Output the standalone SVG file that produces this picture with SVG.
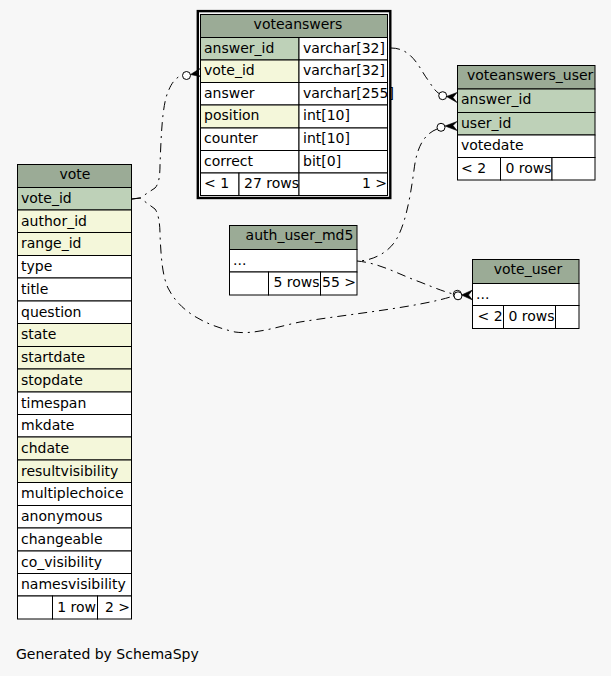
<svg xmlns="http://www.w3.org/2000/svg" width="611" height="676" viewBox="0 0 611 676">
<style>
.h{fill:#9bab96;stroke:#000;stroke-width:1}
.pk{fill:#bed1b8;stroke:#000;stroke-width:1}
.fk{fill:#f4f7da;stroke:#000;stroke-width:1}
.w{fill:#fff;stroke:#000;stroke-width:1}
text{font-family:"DejaVu Sans","Liberation Sans",sans-serif;font-size:14px;fill:#000}
.c{text-anchor:middle}
.e{text-anchor:end}
.edge{fill:none;stroke:#000;stroke-width:1;stroke-dasharray:9 5 2 5}
.ring{fill:#fff;stroke:#000;stroke-width:1}
.crow{fill:#000;stroke:#000;stroke-width:0.6}
</style>
<rect width="611" height="676" fill="#f7f7f7"/>

<g id="connectors">
<path class="edge" d="M132,199 L140,198 L155,188 C159,184 160,175 160,165 C161,140 162,105 168,92 C172,81 178,76 182.5,75.5"/>
<circle class="ring" cx="186.5" cy="75.5" r="4"/>
<polygon class="crow" points="190.5,74.5 200,68.5 196.5,72.5 200,76.5"/>

<path class="edge" d="M391,48 C413,48 420,70 428,80 C432,86 435,91 439,93.5"/>
<circle class="ring" cx="442.7" cy="95.7" r="4"/>
<polygon class="crow" points="446.5,96.5 457,92.5 453,97.5 457,102.5"/>

<path class="edge" d="M437,129 C425,134 417,145 414,170 C410,200 405,225 396,240 C388,253 372,261 357,261"/>
<circle class="ring" cx="441" cy="127.3" r="4"/>
<polygon class="crow" points="445,126 457,121.5 453,125.5 457,130.5"/>

<path class="edge" d="M357,261 C380,263 400,275 420,282 C435,288 445,292 453.3,294"/>
<path class="edge" d="M132,199 L140,198 L155,209 C158,213 160,222 160,235 C161,255 162,275 168,288 C180,312 205,325 235,332 C255,335 280,326 300,322 C350,314 420,307 453.5,296"/>
<circle class="ring" cx="457.3" cy="294.3" r="4"/>
<circle class="ring" cx="458" cy="295.8" r="4"/>
<polygon class="crow" points="461.5,295 472.5,290 468.5,295 472.5,300"/>
</g>

<g id="vote">
<rect class="h" x="17.5" y="164.5" width="114" height="23"/>
<text class="c" x="75" y="178.5">vote</text>
<rect class="pk" x="17.5" y="187.5" width="114" height="22.5"/><text x="21" y="203">vote_id</text>
<rect class="fk" x="17.5" y="210" width="114" height="22.5"/><text x="21" y="225.5">author_id</text>
<rect class="fk" x="17.5" y="232.5" width="114" height="23"/><text x="21" y="248">range_id</text>
<rect class="w" x="17.5" y="255.5" width="114" height="22.5"/><text x="21" y="271">type</text>
<rect class="w" x="17.5" y="278" width="114" height="23"/><text x="21" y="293.5">title</text>
<rect class="w" x="17.5" y="301" width="114" height="22.5"/><text x="21" y="316.5">question</text>
<rect class="fk" x="17.5" y="323.5" width="114" height="23"/><text x="21" y="339">state</text>
<rect class="fk" x="17.5" y="346.5" width="114" height="22.5"/><text x="21" y="362">startdate</text>
<rect class="fk" x="17.5" y="369" width="114" height="23"/><text x="21" y="384.5">stopdate</text>
<rect class="w" x="17.5" y="392" width="114" height="22.5"/><text x="21" y="407.5">timespan</text>
<rect class="w" x="17.5" y="414.5" width="114" height="22.5"/><text x="21" y="430">mkdate</text>
<rect class="fk" x="17.5" y="437" width="114" height="23"/><text x="21" y="452.5">chdate</text>
<rect class="fk" x="17.5" y="460" width="114" height="22.5"/><text x="21" y="475.5">resultvisibility</text>
<rect class="w" x="17.5" y="482.5" width="114" height="23"/><text x="21" y="498">multiplechoice</text>
<rect class="w" x="17.5" y="505.5" width="114" height="22.5"/><text x="21" y="521">anonymous</text>
<rect class="w" x="17.5" y="528" width="114" height="23"/><text x="21" y="543.5">changeable</text>
<rect class="w" x="17.5" y="551" width="114" height="22.5"/><text x="21" y="566.5">co_visibility</text>
<rect class="w" x="17.5" y="573.5" width="114" height="22.5"/><text x="21" y="589">namesvisibility</text>
<rect class="w" x="17.5" y="596" width="35" height="23"/>
<rect class="w" x="52.5" y="596" width="45" height="23"/><text class="e" x="96" y="611.5">1 row</text>
<rect class="w" x="97.5" y="596" width="34" height="23"/><text class="e" x="130" y="611.5">2 &gt;</text>
</g>

<g id="voteanswers">
<rect x="197.8" y="11.1" width="192.5" height="186.9" fill="none" stroke="#000" stroke-width="2.4"/>
<rect class="h" x="200.5" y="14.5" width="187" height="23"/>
<text class="c" x="298" y="29">voteanswers</text>
<rect class="pk" x="200.5" y="37.5" width="98.5" height="22.5"/><text x="204" y="52.5">answer_id</text>
<rect class="w" x="299" y="37.5" width="88.5" height="22.5"/><text x="303" y="52.5">varchar[32]</text>
<rect class="fk" x="200.5" y="60" width="98.5" height="22.5"/><text x="204" y="75">vote_id</text>
<rect class="w" x="299" y="60" width="88.5" height="22.5"/><text x="303" y="75">varchar[32]</text>
<rect class="w" x="200.5" y="82.5" width="98.5" height="22.5"/><text x="204" y="97.5">answer</text>
<rect class="w" x="299" y="82.5" width="88.5" height="22.5"/><text x="303" y="97.5">varchar[255]</text>
<rect class="fk" x="200.5" y="105" width="98.5" height="23"/><text x="204" y="120">position</text>
<rect class="w" x="299" y="105" width="88.5" height="23"/><text x="303" y="120">int[10]</text>
<rect class="w" x="200.5" y="128" width="98.5" height="22.5"/><text x="204" y="143">counter</text>
<rect class="w" x="299" y="128" width="88.5" height="22.5"/><text x="303" y="143">int[10]</text>
<rect class="w" x="200.5" y="150.5" width="98.5" height="22.5"/><text x="204" y="165.5">correct</text>
<rect class="w" x="299" y="150.5" width="88.5" height="22.5"/><text x="303" y="165.5">bit[0]</text>
<rect class="w" x="200.5" y="173" width="38.5" height="22.5"/><text x="204" y="188">&lt; 1</text>
<rect class="w" x="239" y="173" width="60" height="22.5"/><text class="e" x="299" y="188">27 rows</text>
<rect class="w" x="299" y="173" width="88.5" height="22.5"/><text class="e" x="387" y="188">1 &gt;</text>
</g>

<g id="voteanswers_user">
<rect class="h" x="457.5" y="65.5" width="137.5" height="23.5"/>
<text x="467" y="80">voteanswers_user</text>
<rect class="pk" x="457.5" y="89" width="137.5" height="23.5"/><text x="461" y="104">answer_id</text>
<rect class="pk" x="457.5" y="112.5" width="137.5" height="22.5"/><text x="461" y="127.5">user_id</text>
<rect class="w" x="457.5" y="135" width="137.5" height="22.5"/><text x="461" y="150">votedate</text>
<rect class="w" x="457.5" y="157.5" width="43" height="22.5"/><text x="461" y="172.5">&lt; 2</text>
<rect class="w" x="500.5" y="157.5" width="51.5" height="22.5"/><text class="e" x="551.5" y="172.5">0 rows</text>
<rect class="w" x="552" y="157.5" width="43" height="22.5"/>
</g>

<g id="auth_user_md5">
<rect class="h" x="229.5" y="225.5" width="127.5" height="24"/>
<text class="c" x="299.5" y="240">auth_user_md5</text>
<rect class="w" x="229.5" y="249.5" width="127.5" height="22.5"/><text x="233" y="264.5">...</text>
<rect class="w" x="229.5" y="272" width="39" height="23"/>
<rect class="w" x="268.5" y="272" width="52" height="23"/><text class="e" x="319.5" y="287">5 rows</text>
<rect class="w" x="320.5" y="272" width="36.5" height="23"/><text class="e" x="356" y="287">55 &gt;</text>
</g>

<g id="vote_user">
<rect class="h" x="472.5" y="259.5" width="106.5" height="24"/>
<text class="c" x="528" y="274">vote_user</text>
<rect class="w" x="472.5" y="283.5" width="106.5" height="22"/><text x="476" y="298.5">...</text>
<rect class="w" x="472.5" y="305.5" width="31" height="23"/><text x="477.5" y="320.5">&lt; 2</text>
<rect class="w" x="503.5" y="305.5" width="52" height="23"/><text class="e" x="554.5" y="320.5">0 rows</text>
<rect class="w" x="555.5" y="305.5" width="23.5" height="23"/>
</g>

<text x="16" y="659" fill="#222">Generated by SchemaSpy</text>
</svg>
